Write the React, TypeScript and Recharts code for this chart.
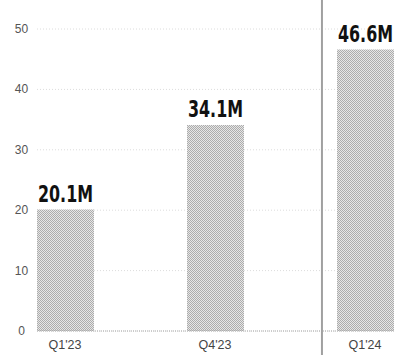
import React from "react";
import { BarChart, Bar, XAxis, YAxis, CartesianGrid, ReferenceLine, LabelList } from "recharts";

const categories = ["Q1'23", "Q4'23", "Q1'24"];
const values = [20.1, 34.1, 46.6];
const valueLabels = ["20.1M", "34.1M", "46.6M"];
const yTicks = [0, 10, 20, 30, 40, 50];

const data = categories.map((c, i) => ({ idx: i, name: c, value: values[i], label: valueLabels[i] }));

const W = 394;
const H = 355;

const YTick = (props: any) => {
  const { y, payload } = props;
  return (
    <text x={21.5} y={y} textAnchor="middle" dominantBaseline="central" fill="#555" fontSize={12} fontFamily="'Liberation Sans', Arial, sans-serif">
      {payload.value}
    </text>
  );
};

const XTick = (props: any) => {
  const { x, y, payload } = props;
  return (
    <text x={x} y={y + 10} textAnchor="middle" fill="#444" fontSize={12.5} fontFamily="'Liberation Sans', Arial, sans-serif">
      {categories[payload.value]}
    </text>
  );
};

const ValueLabel = (props: any) => {
  const { x, y, width, value } = props;
  const cx = x + width / 2;
  return (
    <text
      x={cx}
      y={y - 8}
      textAnchor="middle"
      fill="#111"
      fontSize={23}
      fontWeight="bold"
      fontFamily="'DejaVu Sans Condensed', 'Liberation Sans', sans-serif"
      textLength={55}
      lengthAdjust="spacingAndGlyphs"
    >
      {value}
    </text>
  );
};

const Divider = (props: any) => {
  const { x1 } = props;
  return <line x1={x1} x2={x1} y1={0} y2={H} stroke="#a0a0a0" strokeWidth={2} />;
};

export default function App() {
  return (
    <div style={{ position: "absolute", left: 0, top: 0, width: W, height: H, background: "#fff" }}>
      <BarChart width={W} height={H} data={data} margin={{ top: 29, right: 0, bottom: 0, left: 0 }}>
        <defs>
          <pattern id="halftone" width="2" height="2" patternUnits="userSpaceOnUse">
            <rect width="2" height="2" fill="#e6e6e6" />
            <rect width="1" height="1" fill="#acacac" />
            <rect x="1" y="1" width="1" height="1" fill="#acacac" />
          </pattern>
        </defs>
        <CartesianGrid horizontal vertical={false} stroke="#dcdcdc" strokeDasharray="1 2" />
        <XAxis
          dataKey="idx"
          type="number"
          domain={[-0.1867, 2.1933]}
          ticks={[0, 1, 2]}
          allowDataOverflow
          axisLine={false}
          tickLine={false}
          height={24}
          tick={<XTick />}
        />
        <YAxis
          domain={[0, 50]}
          ticks={yTicks}
          axisLine={false}
          tickLine={false}
          width={37}
          tick={<YTick />}
        />
        <ReferenceLine y={0} stroke="#a8a8a8" strokeDasharray="1 1" />
        <ReferenceLine x={1.713} shape={<Divider />} ifOverflow="visible" />
        <Bar dataKey="value" barSize={57} fill="url(#halftone)" isAnimationActive={false}>
          <LabelList dataKey="label" content={<ValueLabel />} />
        </Bar>
      </BarChart>
    </div>
  );
}
